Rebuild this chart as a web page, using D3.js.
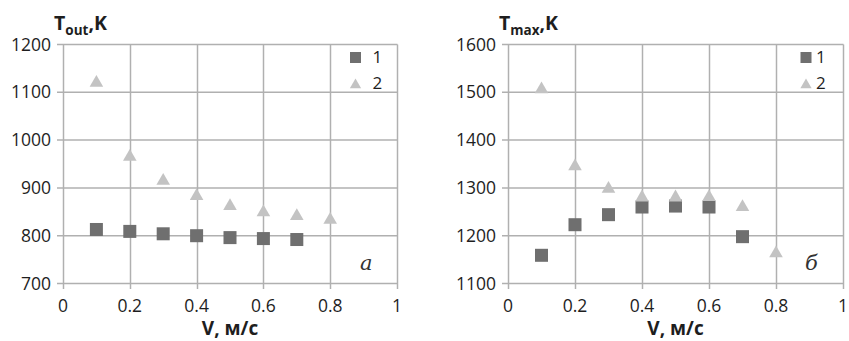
<!DOCTYPE html>
<html>
<head>
<meta charset="UTF-8">
<title></title>
<script src="https://d3js.org/d3.v7.min.js"></script>
<style>
  body { margin: 0; background: #fff; }
  text { font-family: "Open Sans", sans-serif; fill: #1e1e1e; }
</style>
</head>
<body>
<div id="chart"></div>
<script>
// data
const xValues = [0.1, 0.2, 0.3, 0.4, 0.5, 0.6, 0.7, 0.8];
const xTicks = [0, 0.2, 0.4, 0.6, 0.8, 1];

const toutSeries1 = [813, 809, 804, 800, 796, 794, 792];
const toutSeries2 = [1120, 965, 915, 883, 862, 849, 841, 833];
const toutTicks = [700, 800, 900, 1000, 1100, 1200];

const tmaxSeries1 = [1159, 1223, 1244, 1260, 1262, 1260, 1198];
const tmaxSeries2 = [1506, 1345, 1298, 1280, 1280, 1281, 1260, 1163];
const tmaxTicks = [1100, 1200, 1300, 1400, 1500, 1600];

const legendLabels = ['1', '2'];

const svg = d3.select('#chart').append('svg').attr('width', 849).attr('height', 341)

function drawPanel(opt) {
  const g = svg.append('g')
  const x = d3.scaleLinear().domain([0, 1]).range([opt.left, opt.right])
  const y = d3.scaleLinear().domain(opt.domain).range([283.5, 44.5])

  // grid
  g.selectAll('.vg').data(xTicks).enter().append('line')
    .attr('x1', d => Math.round(x(d)) + 0.5).attr('x2', d => Math.round(x(d)) + 0.5)
    .attr('y1', 44.5).attr('y2', 289)
    .attr('stroke', '#b0b0b0').attr('stroke-width', 1.5)
  g.selectAll('.hg').data(opt.ticks).enter().append('line')
    .attr('x1', opt.left - 6).attr('x2', opt.right + 0.5)
    .attr('y1', d => y(d)).attr('y2', d => y(d))
    .attr('stroke', '#b0b0b0').attr('stroke-width', 1.5)

  // tick labels
  g.selectAll('.yl').data(opt.ticks).enter().append('text')
    .attr('x', opt.left - 12).attr('y', d => y(d) + 6)
    .attr('text-anchor', 'end').style('font-size', '17.5px')
    .text(d => d)
  g.selectAll('.xl').data(xTicks).enter().append('text')
    .attr('x', d => x(d)).attr('y', 312)
    .attr('text-anchor', 'middle').style('font-size', '17.5px')
    .text(d => d)

  // titles
  const t = g.append('text').attr('x', opt.left - 9).attr('y', 30)
    .style('font-size', '19.5px').style('font-weight', 'bold')
  t.append('tspan').text('T')
  t.append('tspan').attr('dy', 5).style('font-size', '13.5px').text(opt.sub)
  t.append('tspan').attr('dy', -5).text(',K')

  g.append('text').attr('x', (opt.left + opt.right) / 2).attr('y', 335)
    .attr('text-anchor', 'middle').style('font-size', '19px').style('font-weight', 'bold')
    .text('V, м/с')

  g.append('text').attr('x', opt.letterX).attr('y', 270)
    .style('font-family', '"DejaVu Serif", serif').style('font-style', 'italic')
    .style('font-size', '21px').style('fill', '#333')
    .text(opt.letter)

  // series 1: squares
  const s = 13
  g.selectAll('.sq').data(opt.s1).enter().append('rect')
    .attr('x', (d, i) => x(xValues[i]) - s / 2).attr('y', d => y(d) - s / 2)
    .attr('width', s).attr('height', s).attr('fill', '#6f6f6f')

  // series 2: triangles
  const tri = d3.symbol().type(d3.symbolTriangle).size(80)
  g.selectAll('.tr').data(opt.s2).enter().append('path')
    .attr('d', tri)
    .attr('transform', (d, i) => `translate(${x(xValues[i])},${y(d)})`)
    .attr('fill', '#c3c3c3')

  // legend
  const lx = opt.legendX
  g.append('rect').attr('x', lx - 5.5).attr('y', 52).attr('width', 11).attr('height', 11).attr('fill', '#6f6f6f')
  g.append('path').attr('d', d3.symbol().type(d3.symbolTriangle).size(55))
    .attr('transform', `translate(${lx},${85})`).attr('fill', '#c3c3c3')
  g.selectAll('.lg').data(legendLabels).enter().append('text')
    .attr('x', lx + opt.legendGap).attr('y', (d, i) => 63 + i * 26)
    .style('font-size', '17px').text(d => d)
}

drawPanel({left: 63, right: 397, domain: [700, 1200], ticks: toutTicks, s1: toutSeries1, s2: toutSeries2,
  sub: 'out', letter: 'a', letterX: 360, legendX: 355.5, legendGap: 17})
drawPanel({left: 508, right: 843, domain: [1100, 1600], ticks: tmaxTicks, s1: tmaxSeries1, s2: tmaxSeries2,
  sub: 'max', letter: 'б', letterX: 805, legendX: 806, legendGap: 10})
</script>
</body>
</html>
